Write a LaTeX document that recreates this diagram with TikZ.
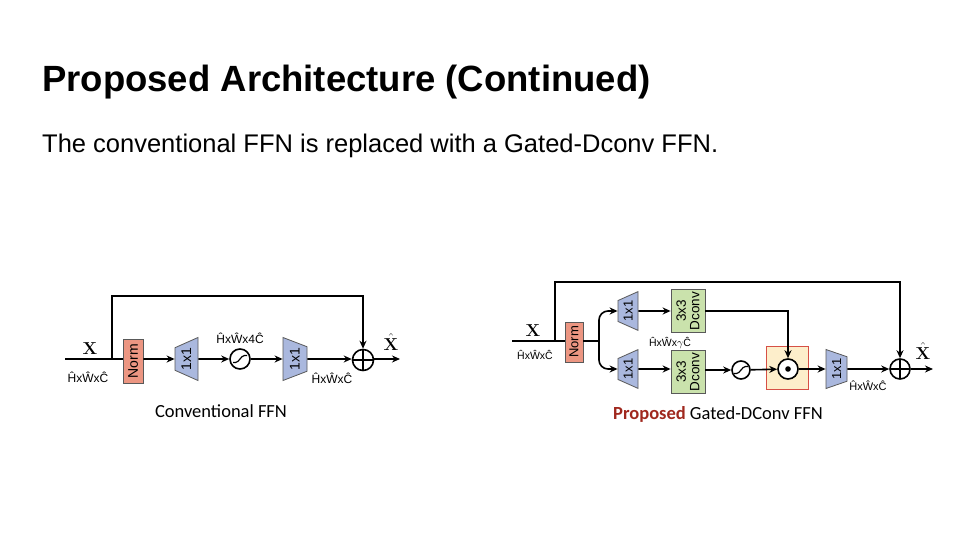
\documentclass[tikz,border=0pt]{standalone}
\usepackage[no-math]{fontspec}
\setmainfont{Liberation Sans}
\newfontfamily\capfont{Carlito}
\usetikzlibrary{positioning, shapes.geometric, arrows.meta}
\definecolor{normred}{RGB}{236,150,130}
\definecolor{convblue}{RGB}{170,184,222}
\definecolor{dcgreen}{RGB}{202,226,172}
\definecolor{gateyellow}{RGB}{253,238,203}
\definecolor{gatered}{RGB}{214,80,70}
\definecolor{propred}{RGB}{160,40,30}
\tikzset{
  box line/.style={draw=black!65, line width=0.8pt},
  norm node/.style={rectangle, box line, fill=normred, rotate=90, inner sep=0pt,
    font=\fontsize{14}{14}\selectfont},
  trap node/.style={trapezium, box line, fill=convblue, rotate=90, inner xsep=0pt,
    text height=9pt, text depth=0pt, trapezium stretches body=true,
    font=\fontsize{14}{14}\selectfont},
  expand/.style={trap node},
  reduce/.style={trap node, shape border rotate=180},
  dconv node/.style={rectangle, box line, fill=dcgreen, rotate=90, inner sep=0pt,
    align=center, font=\fontsize{13.5}{13.5}\selectfont, minimum width=43, minimum height=34},
  op node/.style={circle, draw, line width=1.6pt, fill=white, inner sep=0pt, minimum size=20},
  sig node/.style={op node, path picture={
    \draw[line width=1.2pt] ([xshift=-7pt,yshift=-3.5pt]path picture bounding box.center)
      -- ++(2.5pt,0) .. controls +(3.5pt,0) and +(-3.5pt,0) .. ++(9pt,7pt) -- ++(2.5pt,0);}},
  add node/.style={op node, path picture={
    \draw[line width=1.3pt] (path picture bounding box.north) -- (path picture bounding box.south)
      (path picture bounding box.west) -- (path picture bounding box.east);}},
  dot node/.style={op node, path picture={
    \fill[black] (path picture bounding box.center) circle (2.8pt);}},
  dim label/.style={inner sep=0pt, font=\fontsize{12}{12}\selectfont},
  x label/.style={inner sep=0pt, font=\fontsize{17}{17}\selectfont},
  cap label/.style={inner sep=0pt, font=\capfont\fontsize{18.5}{18.5}\selectfont},
  line/.style={line width=1.6pt},
  flow/.style={line, -{Stealth[length=8pt, width=7pt]}},
}
\begin{document}
\begin{tikzpicture}[x=1pt, y=-1pt]
        \useasboundingbox (0,0) rectangle (960,540);
        % Heading
        \node[anchor=base west, inner sep=0pt, font=\fontsize{36.5}{36.5}\selectfont\bfseries] (title) at (42,92) {Proposed Architecture (Continued)};
        \node[anchor=base west, inner sep=0pt, font=\fontsize{25.5}{25.5}\selectfont] (intro) at (42,153) {The conventional FFN is replaced with a Gated-Dconv FFN.};
        % Conventional FFN
        \coordinate (in1) at (65,359);
        \coordinate (split1) at (112,359);
        \coordinate (top1) at (112,296);
        \coordinate (out1) at (400,359);
        \node[norm node, minimum width=44, minimum height=20] (norm1) at (133,361) {Norm};
        \node[expand, inner ysep=7pt, trapezium angle=66, minimum width=43] (exp1) at (186.5,359) {1x1};
        \node[sig node] (sig1) at (240,359) {};
        \node[reduce, inner ysep=7.5pt, trapezium angle=69, minimum width=43] (red1) at (295,359) {1x1};
        \node[add node, minimum size=21] (add1) at (363,360) {};
        \node[x label] (x1) at (90,349) {$\mathbf{X}$};
        \node[dim label] (d1) at (88,377) {ĤxŴxĈ};
        \node[dim label, above=4pt of sig1] (d2) {ĤxŴx4Ĉ};
        \node[dim label] (d3) at (332,378) {ĤxŴxĈ};
        \node[x label] (xh1) at (391,342) {$\hat{\mathbf{X}}$};
        \node[cap label] (cap1) at (221,411) {Conventional FFN};
        \draw[line] (in1) -- (norm1.north |- in1);
        \draw[flow] (split1) -- (top1) -| (add1);
        \draw[flow] (norm1.south |- exp1) -- (exp1);
        \draw[flow] (exp1) -- (sig1);
        \draw[flow] (sig1) -- (red1);
        \draw[flow] (red1) -- (add1.west |- red1);
        \draw[flow] (add1.east |- out1) -- (out1);
        % Gated-Dconv FFN
        \coordinate (in2) at (512,341);
        \coordinate (split2) at (555,341);
        \coordinate (top2) at (555,282);
        \coordinate (fork) at (599,341);
        \coordinate (out2) at (933,369);
        \node[norm node, minimum width=40, minimum height=18, font=\fontsize{13}{13}\selectfont] (norm2) at (574,342) {Norm};
        \node[expand, inner ysep=5.5pt, trapezium angle=66, minimum width=38, font=\fontsize{13}{13}\selectfont] (exp2a) at (628,311) {1x1};
        \node[expand, inner ysep=5.5pt, trapezium angle=66, minimum width=38, font=\fontsize{13}{13}\selectfont] (exp2b) at (628,369) {1x1};
        \node[dconv node] (dc2a) at (688,311) {3x3\\Dconv};
        \node[dconv node] (dc2b) at (688,372) {3x3\\Dconv};
        \node[sig node, minimum size=18] (sig2) at (741,370) {};
        \node[rectangle, draw=gatered, line width=0.9pt, fill=gateyellow, minimum width=42, minimum height=43] (gate) at (787,368) {};
        \node[dot node] (dot) at (788,369) {};
        \node[reduce, inner ysep=6pt, trapezium angle=71, minimum width=39, font=\fontsize{13}{13}\selectfont] (red2) at (836.5,369) {1x1};
        \node[add node] (add2) at (900,369) {};
        \node[x label] (x2) at (533,331) {$\mathbf{X}$};
        \node[dim label, font=\fontsize{10.5}{10.5}\selectfont] (d4) at (535,355) {ĤxŴxĈ};
        \node[dim label, font=\fontsize{10.5}{10.5}\selectfont] (d5) at (670,343) {ĤxŴx$\gamma$Ĉ};
        \node[dim label, font=\fontsize{11}{11}\selectfont] (d6) at (868,386) {ĤxŴxĈ};
        \node[x label] (xh2) at (923,351) {$\hat{\mathbf{X}}$};
        \node[cap label] (cap2) at (718,414) {{\color{propred}\bfseries Proposed} Gated-DConv FFN};
        \draw[line] (in2) -- (norm2.north |- in2);
        \draw[line] (norm2.south |- fork) -- (fork);
        \draw[flow] (split2) -- (top2) -| (add2);
        \draw[flow, rounded corners=9] (fork) |- (exp2a);
        \draw[flow, rounded corners=9] (fork) |- (exp2b);
        \draw[flow] (exp2a) -- (dc2a);
        \draw[flow] (exp2b) -- (dc2b.north |- exp2b);
        \draw[flow] (dc2a) -| (dot);
        \draw[flow] (dc2b.south |- sig2) -- (sig2);
        \draw[flow] (sig2) -- (dot);
        \draw[flow] (dot) -- (red2);
        \draw[flow] (red2) -- (add2);
        \draw[flow] (add2) -- (out2);
    \end{tikzpicture}
\end{document}
